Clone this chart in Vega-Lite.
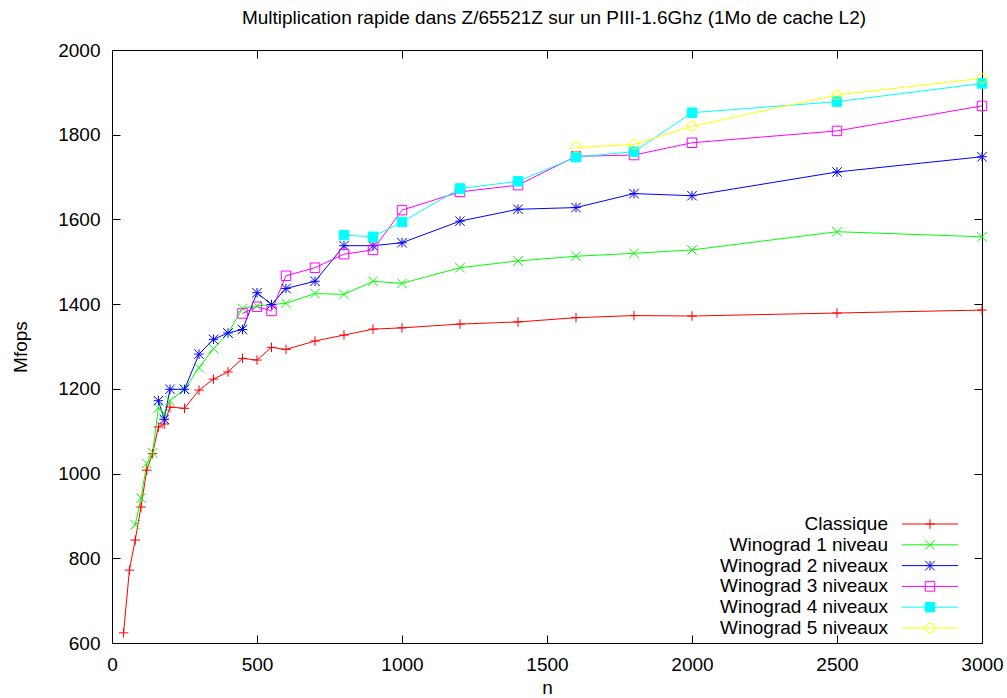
{
  "$schema": "https://vega.github.io/schema/vega-lite/v6.json",
  "width": 870,
  "height": 593,
  "autosize": {"type": "none"},
  "padding": {"left": 112, "top": 50, "right": 25, "bottom": 55},
  "background": "white",
  "title": {
    "text": "Multiplication rapide dans Z/65521Z sur un PIII-1.6Ghz (1Mo de cache L2)",
    "font": "Liberation Sans",
    "fontSize": 19,
    "fontWeight": "normal",
    "color": "black",
    "baseline": "alphabetic",
    "offset": -2,
    "dx": 7
  },
  "config": {
    "font": "Liberation Sans",
    "view": {"stroke": "black", "strokeWidth": 1},
    "axis": {
      "domain": false,
      "grid": false,
      "tickSize": -8,
      "tickColor": "black",
      "tickWidth": 1,
      "labelFont": "Liberation Sans",
      "labelFontSize": 19,
      "labelColor": "black",
      "labelPadding": 20,
      "labelFlush": false,
      "labelOverlap": false,
      "format": "d",
      "titleFont": "Liberation Sans",
      "titleFontSize": 19,
      "titleFontWeight": "normal",
      "titleColor": "black"
    }
  },
  "data": {
    "values": [
      {"series": "Classique", "n": 40, "mflops": 624},
      {"series": "Classique", "n": 60, "mflops": 772},
      {"series": "Classique", "n": 80, "mflops": 843},
      {"series": "Classique", "n": 100, "mflops": 921},
      {"series": "Classique", "n": 120, "mflops": 1008},
      {"series": "Classique", "n": 140, "mflops": 1047},
      {"series": "Classique", "n": 160, "mflops": 1110},
      {"series": "Classique", "n": 180, "mflops": 1117},
      {"series": "Classique", "n": 200, "mflops": 1157},
      {"series": "Classique", "n": 250, "mflops": 1154},
      {"series": "Classique", "n": 300, "mflops": 1197},
      {"series": "Classique", "n": 350, "mflops": 1223},
      {"series": "Classique", "n": 400, "mflops": 1240},
      {"series": "Classique", "n": 450, "mflops": 1272},
      {"series": "Classique", "n": 500, "mflops": 1268},
      {"series": "Classique", "n": 550, "mflops": 1298},
      {"series": "Classique", "n": 600, "mflops": 1293},
      {"series": "Classique", "n": 700, "mflops": 1313},
      {"series": "Classique", "n": 800, "mflops": 1327},
      {"series": "Classique", "n": 900, "mflops": 1341},
      {"series": "Classique", "n": 1000, "mflops": 1344},
      {"series": "Classique", "n": 1200, "mflops": 1353},
      {"series": "Classique", "n": 1400, "mflops": 1358},
      {"series": "Classique", "n": 1600, "mflops": 1368},
      {"series": "Classique", "n": 1800, "mflops": 1373},
      {"series": "Classique", "n": 2000, "mflops": 1372},
      {"series": "Classique", "n": 2500, "mflops": 1379},
      {"series": "Classique", "n": 3000, "mflops": 1386},
      {"series": "Winograd 1 niveau", "n": 80, "mflops": 879},
      {"series": "Winograd 1 niveau", "n": 100, "mflops": 942},
      {"series": "Winograd 1 niveau", "n": 120, "mflops": 1024},
      {"series": "Winograd 1 niveau", "n": 140, "mflops": 1049},
      {"series": "Winograd 1 niveau", "n": 160, "mflops": 1155},
      {"series": "Winograd 1 niveau", "n": 180, "mflops": 1142},
      {"series": "Winograd 1 niveau", "n": 200, "mflops": 1172},
      {"series": "Winograd 1 niveau", "n": 250, "mflops": 1199},
      {"series": "Winograd 1 niveau", "n": 300, "mflops": 1250},
      {"series": "Winograd 1 niveau", "n": 350, "mflops": 1295},
      {"series": "Winograd 1 niveau", "n": 400, "mflops": 1331},
      {"series": "Winograd 1 niveau", "n": 450, "mflops": 1390},
      {"series": "Winograd 1 niveau", "n": 500, "mflops": 1396},
      {"series": "Winograd 1 niveau", "n": 550, "mflops": 1399},
      {"series": "Winograd 1 niveau", "n": 600, "mflops": 1402},
      {"series": "Winograd 1 niveau", "n": 700, "mflops": 1425},
      {"series": "Winograd 1 niveau", "n": 800, "mflops": 1423},
      {"series": "Winograd 1 niveau", "n": 900, "mflops": 1454},
      {"series": "Winograd 1 niveau", "n": 1000, "mflops": 1449},
      {"series": "Winograd 1 niveau", "n": 1200, "mflops": 1486},
      {"series": "Winograd 1 niveau", "n": 1400, "mflops": 1502},
      {"series": "Winograd 1 niveau", "n": 1600, "mflops": 1513},
      {"series": "Winograd 1 niveau", "n": 1800, "mflops": 1520},
      {"series": "Winograd 1 niveau", "n": 2000, "mflops": 1528},
      {"series": "Winograd 1 niveau", "n": 2500, "mflops": 1571},
      {"series": "Winograd 1 niveau", "n": 3000, "mflops": 1559},
      {"series": "Winograd 2 niveaux", "n": 160, "mflops": 1172},
      {"series": "Winograd 2 niveaux", "n": 180, "mflops": 1128},
      {"series": "Winograd 2 niveaux", "n": 200, "mflops": 1199},
      {"series": "Winograd 2 niveaux", "n": 250, "mflops": 1199},
      {"series": "Winograd 2 niveaux", "n": 300, "mflops": 1282},
      {"series": "Winograd 2 niveaux", "n": 350, "mflops": 1317},
      {"series": "Winograd 2 niveaux", "n": 400, "mflops": 1332},
      {"series": "Winograd 2 niveaux", "n": 450, "mflops": 1340},
      {"series": "Winograd 2 niveaux", "n": 500, "mflops": 1427},
      {"series": "Winograd 2 niveaux", "n": 550, "mflops": 1399},
      {"series": "Winograd 2 niveaux", "n": 600, "mflops": 1437},
      {"series": "Winograd 2 niveaux", "n": 700, "mflops": 1454},
      {"series": "Winograd 2 niveaux", "n": 800, "mflops": 1538},
      {"series": "Winograd 2 niveaux", "n": 900, "mflops": 1538},
      {"series": "Winograd 2 niveaux", "n": 1000, "mflops": 1545},
      {"series": "Winograd 2 niveaux", "n": 1200, "mflops": 1596},
      {"series": "Winograd 2 niveaux", "n": 1400, "mflops": 1624},
      {"series": "Winograd 2 niveaux", "n": 1600, "mflops": 1628},
      {"series": "Winograd 2 niveaux", "n": 1800, "mflops": 1661},
      {"series": "Winograd 2 niveaux", "n": 2000, "mflops": 1656},
      {"series": "Winograd 2 niveaux", "n": 2500, "mflops": 1712},
      {"series": "Winograd 2 niveaux", "n": 3000, "mflops": 1748},
      {"series": "Winograd 3 niveaux", "n": 450, "mflops": 1378},
      {"series": "Winograd 3 niveaux", "n": 500, "mflops": 1394},
      {"series": "Winograd 3 niveaux", "n": 550, "mflops": 1384},
      {"series": "Winograd 3 niveaux", "n": 600, "mflops": 1467},
      {"series": "Winograd 3 niveaux", "n": 700, "mflops": 1486},
      {"series": "Winograd 3 niveaux", "n": 800, "mflops": 1518},
      {"series": "Winograd 3 niveaux", "n": 900, "mflops": 1528},
      {"series": "Winograd 3 niveaux", "n": 1000, "mflops": 1622},
      {"series": "Winograd 3 niveaux", "n": 1200, "mflops": 1665},
      {"series": "Winograd 3 niveaux", "n": 1400, "mflops": 1681},
      {"series": "Winograd 3 niveaux", "n": 1600, "mflops": 1749},
      {"series": "Winograd 3 niveaux", "n": 1800, "mflops": 1752},
      {"series": "Winograd 3 niveaux", "n": 2000, "mflops": 1781},
      {"series": "Winograd 3 niveaux", "n": 2500, "mflops": 1809},
      {"series": "Winograd 3 niveaux", "n": 3000, "mflops": 1868},
      {"series": "Winograd 4 niveaux", "n": 800, "mflops": 1563},
      {"series": "Winograd 4 niveaux", "n": 900, "mflops": 1559},
      {"series": "Winograd 4 niveaux", "n": 1000, "mflops": 1594},
      {"series": "Winograd 4 niveaux", "n": 1200, "mflops": 1673},
      {"series": "Winograd 4 niveaux", "n": 1400, "mflops": 1690},
      {"series": "Winograd 4 niveaux", "n": 1600, "mflops": 1747},
      {"series": "Winograd 4 niveaux", "n": 1800, "mflops": 1760},
      {"series": "Winograd 4 niveaux", "n": 2000, "mflops": 1852},
      {"series": "Winograd 4 niveaux", "n": 2500, "mflops": 1878},
      {"series": "Winograd 4 niveaux", "n": 3000, "mflops": 1921},
      {"series": "Winograd 5 niveaux", "n": 1600, "mflops": 1770},
      {"series": "Winograd 5 niveaux", "n": 1800, "mflops": 1777},
      {"series": "Winograd 5 niveaux", "n": 2000, "mflops": 1820},
      {"series": "Winograd 5 niveaux", "n": 2500, "mflops": 1894},
      {"series": "Winograd 5 niveaux", "n": 3000, "mflops": 1933}
    ]
  },
  "layer": [
    {
      "mark": {"type": "line", "strokeWidth": 1},
      "encoding": {
        "x": {
          "field": "n", "type": "quantitative",
          "scale": {"domain": [0, 3000], "nice": false},
          "axis": {"orient": "top", "labels": false, "title": null, "values": [0, 500, 1000, 1500, 2000, 2500, 3000]}
        },
        "y": {
          "field": "mflops", "type": "quantitative",
          "scale": {"domain": [600, 2000], "nice": false, "zero": false},
          "axis": {"orient": "right", "labels": false, "title": null, "values": [600, 800, 1000, 1200, 1400, 1600, 1800, 2000]}
        },
        "stroke": {
          "field": "series", "type": "nominal",
          "scale": {
            "domain": ["Classique", "Winograd 1 niveau", "Winograd 2 niveaux", "Winograd 3 niveaux", "Winograd 4 niveaux", "Winograd 5 niveaux"],
            "range": ["#ff0000", "#00ff00", "#0000ff", "#ff00ff", "#00ffff", "#ffff00"]
          },
          "legend": {
            "orient": "none", "legendX": 808.5, "legendY": 464.5,
            "title": null, "padding": 0, "offset": 0, "rowPadding": 0.8,
            "symbolType": "M-7,0H7", "symbolSize": 64, "symbolStrokeWidth": 1,
            "labelFont": "Liberation Sans", "labelFontSize": 19, "labelColor": "black",
            "labelAlign": "right", "labelOffset": -51.5, "labelLimit": 500
          }
        }
      }
    },
    {
      "mark": {"type": "point", "size": 90, "strokeWidth": 1, "opacity": 1},
      "encoding": {
        "x": {
          "field": "n", "type": "quantitative",
          "scale": {"domain": [0, 3000], "nice": false},
          "axis": {"orient": "bottom", "title": "n", "titlePadding": 4, "values": [0, 500, 1000, 1500, 2000, 2500, 3000]}
        },
        "y": {
          "field": "mflops", "type": "quantitative",
          "scale": {"domain": [600, 2000], "nice": false, "zero": false},
          "axis": {"orient": "left", "title": "Mfops", "titlePadding": 27, "values": [600, 800, 1000, 1200, 1400, 1600, 1800, 2000]}
        },
        "stroke": {
          "field": "series", "type": "nominal",
          "scale": {
            "domain": ["Classique", "Winograd 1 niveau", "Winograd 2 niveaux", "Winograd 3 niveaux", "Winograd 4 niveaux", "Winograd 5 niveaux"],
            "range": ["#ff0000", "#00ff00", "#0000ff", "#ff00ff", "#00ffff", "#ffff00"]
          },
          "legend": {
            "orient": "none", "legendX": 808.5, "legendY": 464.5,
            "title": null, "padding": 0, "offset": 0, "rowPadding": 0.8,
            "symbolSize": 90, "symbolStrokeWidth": 1,
            "labelFont": "Liberation Sans", "labelFontSize": 19, "labelExpr": "''"
          }
        },
        "fill": {
          "field": "series", "type": "nominal",
          "scale": {
            "domain": ["Classique", "Winograd 1 niveau", "Winograd 2 niveaux", "Winograd 3 niveaux", "Winograd 4 niveaux", "Winograd 5 niveaux"],
            "range": ["transparent", "transparent", "transparent", "transparent", "#00ffff", "transparent"]
          },
          "legend": {
            "orient": "none", "legendX": 808.5, "legendY": 464.5,
            "title": null, "padding": 0, "offset": 0, "rowPadding": 0.8,
            "symbolSize": 90, "symbolStrokeWidth": 1,
            "labelFont": "Liberation Sans", "labelFontSize": 19, "labelExpr": "''"
          }
        },
        "shape": {
          "field": "series", "type": "nominal",
          "scale": {
            "domain": ["Classique", "Winograd 1 niveau", "Winograd 2 niveaux", "Winograd 3 niveaux", "Winograd 4 niveaux", "Winograd 5 niveaux"],
            "range": ["M-1,0H1M0,-1V1", "M-1,-1L1,1M-1,1L1,-1", "M-1,0H1M0,-1V1M-1,-1L1,1M-1,1L1,-1", "square", "square", "circle"]
          },
          "legend": {
            "orient": "none", "legendX": 808.5, "legendY": 464.5,
            "title": null, "padding": 0, "offset": 0, "rowPadding": 0.8,
            "symbolSize": 90, "symbolStrokeWidth": 1,
            "labelFont": "Liberation Sans", "labelFontSize": 19, "labelExpr": "''"
          }
        }
      }
    }
  ],
  "resolve": {
    "axis": {"x": "independent", "y": "independent"},
    "legend": {"stroke": "independent", "fill": "independent", "shape": "independent"}
  }
}
